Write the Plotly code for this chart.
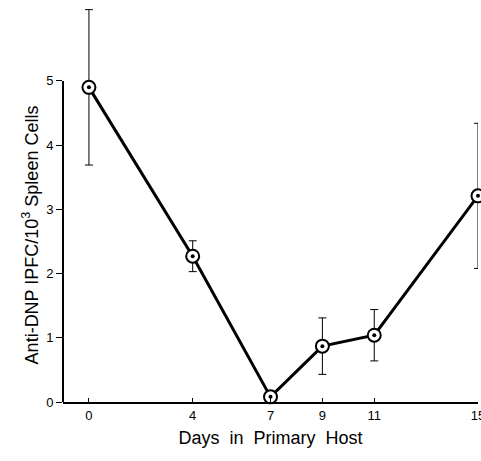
import plotly.graph_objects as go

days = [0, 4, 7, 9, 11, 15]
ipfc = [4.9, 2.27, 0.08, 0.87, 1.04, 3.21]
err = [1.21, 0.24, 0.0, 0.44, 0.40, 1.13]
x_ticks = [0, 4, 7, 9, 11, 15]
y_ticks = [0, 1, 2, 3, 4, 5]

FONT = "Liberation Sans, Arial, sans-serif"

fig = go.Figure()
fig.add_trace(go.Scatter(
    x=days, y=ipfc, mode="lines+markers",
    line=dict(color="black", width=3),
    marker=dict(symbol="circle", size=13, color="white",
                line=dict(color="black", width=2)),
    error_y=dict(type="data", array=err, visible=True,
                 color="black", thickness=1, width=4),
    showlegend=False, cliponaxis=False,
))
fig.add_trace(go.Scatter(
    x=days, y=ipfc, mode="markers",
    marker=dict(symbol="circle", size=4, color="black"),
    showlegend=False, cliponaxis=False,
))

# y axis line only spans the labelled range
fig.add_shape(type="line", xref="paper", yref="y", x0=0, x1=0,
              y0=0, y1=5, line=dict(color="black", width=2))

# y axis title (placed lower than plot centre as in the reference)
fig.add_annotation(
    text="Anti-DNP IPFC/10<sup>3</sup> Spleen Cells",
    xref="paper", yref="paper", x=-0.079, y=0.415,
    xanchor="center", yanchor="middle", textangle=-90, showarrow=False,
    font=dict(size=18, family=FONT, color="black"),
)

fig.update_layout(
    width=481, height=461,
    margin=dict(l=63, r=3, t=0, b=59, autoexpand=False),
    paper_bgcolor="white", plot_bgcolor="white",
    font=dict(family=FONT, color="black"),
)
fig.update_xaxes(
    range=[-1, 15], tickvals=x_ticks, ticktext=[str(v) for v in x_ticks],
    showgrid=False, zeroline=False, showline=True, linecolor="black",
    linewidth=2, ticks="inside", ticklen=4, tickwidth=1, tickcolor="black",
    tickfont=dict(size=13), ticklabeloverflow="allow", automargin=False,
    title=dict(text="Days\u00a0\u00a0in\u00a0\u00a0Primary\u00a0\u00a0Host",
               font=dict(size=18), standoff=10),
)
fig.update_yaxes(
    range=[0, 6.26], tickvals=y_ticks, ticktext=[str(v) for v in y_ticks],
    showgrid=False, zeroline=False, showline=False, automargin=False,
    ticks="outside", ticklen=6, tickwidth=1, tickcolor="black",
    tickfont=dict(size=13),
)

fig.write_html("out.html")
